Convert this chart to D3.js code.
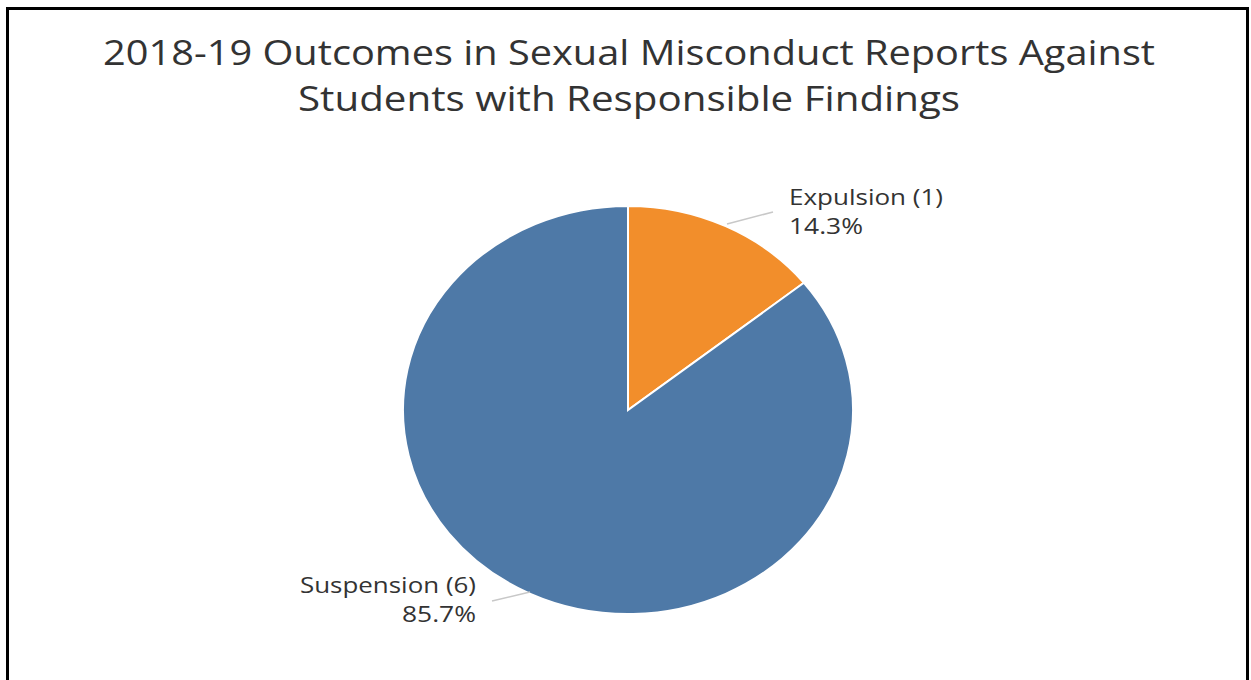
<!DOCTYPE html>
<html><head><meta charset="utf-8">
<script src="https://cdn.jsdelivr.net/npm/d3@7"></script>
<style>body{margin:0;background:#fff;} svg{display:block;}</style>
</head><body>
<svg id="c" width="1251" height="680"></svg>
<script>
const titleLines = ["2018-19 Outcomes in Sexual Misconduct Reports Against", "Students with Responsible Findings"];
const categories = ["Expulsion", "Suspension"];
const counts = [1, 6];
const colors = ["#f28e2b", "#4e79a7"];

const svg = d3.select("#c");
const font = "'Open Sans', sans-serif";

// frame
svg.append("rect").attr("x", 7.5).attr("y", 8.5).attr("width", 1240).attr("height", 700)
  .attr("fill", "none").attr("stroke", "#000").attr("stroke-width", 3);

// title
const titleWidths = [1052, 662];
svg.append("g").selectAll("text").data(titleLines).join("text")
  .attr("x", 629).attr("y", (d, i) => 65 + i * 46)
  .attr("text-anchor", "middle").attr("font-family", font).attr("font-size", 34)
  .attr("textLength", (d, i) => titleWidths[i]).attr("lengthAdjust", "spacingAndGlyphs")
  .attr("fill", "#333").text(d => d);

const cx = 628, cy = 410, r = 204, sx = 225 / 204;
const total = d3.sum(counts);
const data = categories.map((c, i) => ({ c, v: counts[i], col: colors[i] }));
const pie = d3.pie().value(d => d.v).sort(null);
const arcs = pie(data);
const arc = d3.arc().innerRadius(0).outerRadius(r);

const g = svg.append("g").attr("transform", `translate(${cx},${cy}) scale(${sx},1)`);
g.selectAll("path").data(arcs).join("path")
  .attr("d", arc).attr("fill", d => d.data.col)
  .attr("stroke", "#fff").attr("stroke-width", 2).attr("vector-effect", "non-scaling-stroke");

// leader lines & labels
const fmt = d3.format(".1%");
const labelSpec = [
  { anchor: "start", x: 789, y: 205, w: [154, 74], line: [[727, 224], [773, 212]] },
  { anchor: "end", x: 476, y: 593, w: [176, 74], line: [[492, 601], [530, 592]] }
];
arcs.forEach((a, i) => {
  const s = labelSpec[i];
  svg.append("line").attr("x1", s.line[0][0]).attr("y1", s.line[0][1])
    .attr("x2", s.line[1][0]).attr("y2", s.line[1][1])
    .attr("stroke", "#c8c8c8").attr("stroke-width", 1.5);
  const lines = [`${a.data.c} (${a.data.v})`, fmt(a.data.v / total)];
  lines.forEach((txt, k) => {
    svg.append("text").attr("x", s.x).attr("y", s.y + k * 29).attr("text-anchor", s.anchor)
      .attr("font-family", font).attr("font-size", 22).attr("fill", "#333")
      .attr("textLength", s.w[k]).attr("lengthAdjust", "spacingAndGlyphs")
      .text(txt);
  });
});
</script>
</body></html>
